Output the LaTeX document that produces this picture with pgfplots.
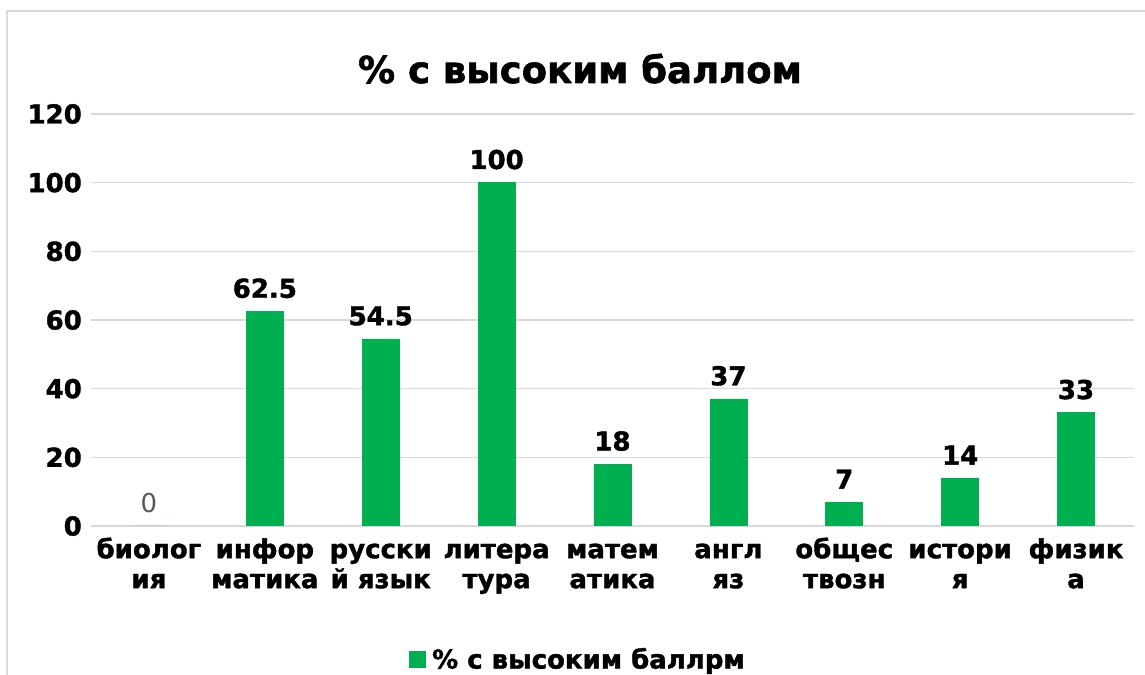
\documentclass[border=0pt]{standalone}
\usepackage{pgfplots}
\pgfplotsset{compat=1.18}
\usepackage{fontspec}
\setmainfont{DejaVu Sans}[BoldFeatures={FakeBold=1.5}]
\definecolor{barg}{HTML}{00B050}
\definecolor{gridc}{HTML}{D9D9D9}
\definecolor{labgray}{HTML}{595959}
\newcommand{\fs}{\fontsize{26bp}{30bp}\selectfont}
\newcommand{\zerolab}{{\color{labgray}\mdseries 0}}
\begin{document}
\begin{tikzpicture}[x=1bp,y=1bp]
\useasboundingbox (0,0) rectangle (1145,675);
\draw[gridc, line width=1.5bp] (7,-5) -- (7,664) -- (1150,664);
\node[font=\fontsize{37bp}{44bp}\selectfont\bfseries, anchor=base] at (580,592) {\% с высоким баллом};
\begin{axis}[
  at={(91bp,149bp)}, anchor=south west,
  scale only axis, width=1043bp, height=412bp,
  xmin=-0.5, xmax=8.5, ymin=0, ymax=120,
  ytick={0,20,...,120},
  xtick={0,...,8},
  xticklabels={{биолог\\ия},{инфор\\матика},{русски\\й язык},{литера\\тура},{матем\\атика},{англ\\яз},{общес\\твозн},{истори\\я},{физик\\а}},
  axis y line*=left,
  y axis line style={draw=none},
  axis x line*=bottom,
  x axis line style={gridc, line width=1.5bp, -},
  major tick length=0pt,
  ymajorgrids, grid style={gridc, line width=1.2bp},
  /pgf/number format/assume math mode=true,
  yticklabel style={font=\fs\bfseries, inner sep=0pt, xshift=-9bp},
  xticklabel style={font=\fs\bfseries, align=center, inner sep=0pt, yshift=-12bp, text height=50bp},
  ybar, bar width=37bp,
  point meta=explicit symbolic,
  nodes near coords,
  every node near coord/.append style={font=\fs\bfseries, inner sep=0pt, anchor=south, yshift=13bp, text=black},
  legend style={at={(0.4666,-0.3228)}, anchor=center, draw=none, font=\fs\bfseries, fill=none},
  legend image code/.code={\fill[barg] (0bp,-8bp) rectangle (16bp,8bp); \path (21bp,0bp);},
]
\addplot[fill=barg, draw=barg, line width=0.6bp] coordinates {
 (0,0) [\zerolab]
 (1,62.5) [62.5]
 (2,54.5) [54.5]
 (3,100) [100]
 (4,18) [18]
 (5,37) [37]
 (6,7) [7]
 (7,14) [14]
 (8,33) [33]
};
\addlegendentry{\% с высоким баллрм}
\end{axis}
\end{tikzpicture}
\end{document}
